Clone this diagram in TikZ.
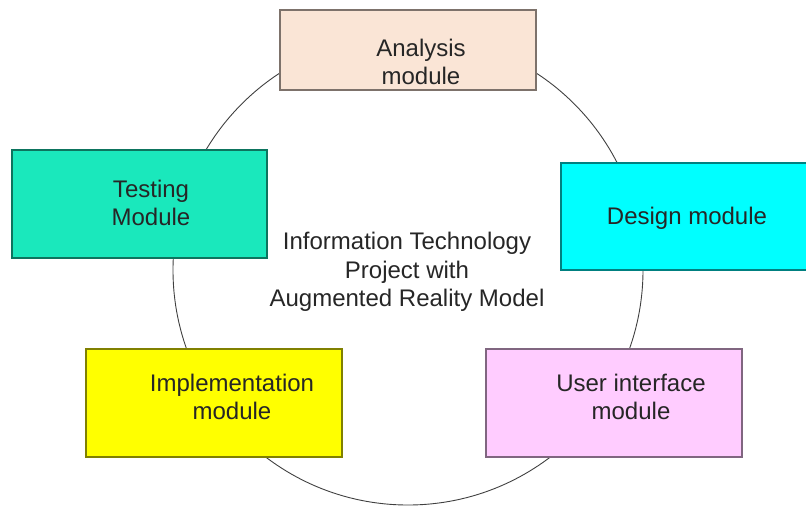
\documentclass[tikz,border=0pt]{standalone}
\usepackage{fontspec}
\setmainfont{Liberation Sans}
\definecolor{peach}{RGB}{250,229,214}
\definecolor{teal}{RGB}{26,232,188}
\definecolor{aqua}{RGB}{0,255,255}
\definecolor{lemon}{RGB}{255,255,0}
\definecolor{lilac}{RGB}{255,204,255}

\begin{document}
\begin{tikzpicture}[x=1pt,y=-1pt,
    modbox/.style={draw=#1!50!black,fill=#1,line width=1.2pt,inner sep=0pt},
    modtext/.style={align=center,text=black!85,font=\fontsize{24}{28.5}\selectfont}]
    \useasboundingbox (0,0) rectangle (806,507);
    % the ring behind the modules
    \draw[line width=0.9pt,black!75] (408,270) circle (235pt);
    % module boxes
    \node[modbox=peach,minimum width=256pt,minimum height=80pt] (analysis) at (408,50) {};
    \node[modbox=teal,minimum width=255pt,minimum height=108pt] (testing) at (139.5,204) {};
    \node[modbox=aqua,minimum width=250pt,minimum height=107pt] (design) at (686,216.5) {};
    \node[modbox=lemon,minimum width=256pt,minimum height=108pt] (implement) at (214,403) {};
    \node[modbox=lilac,minimum width=256pt,minimum height=108pt] (userif) at (614,403) {};
    % labels
    \node[modtext] (analysis-t) at (421,62) {Analysis\\module};
    \node[modtext] (testing-t) at (151,203) {Testing\\Module};
    \node[modtext] (design-t) at (687,218) {Design module};
    \node[modtext] (implement-t) at (232,397) {Implementation\\module};
    \node[modtext] (userif-t) at (631,397) {User interface\\module};
    \node[modtext] (project) at (407,272) {Information Technology\\Project with\\Augmented Reality Model};
\end{tikzpicture}
\end{document}
